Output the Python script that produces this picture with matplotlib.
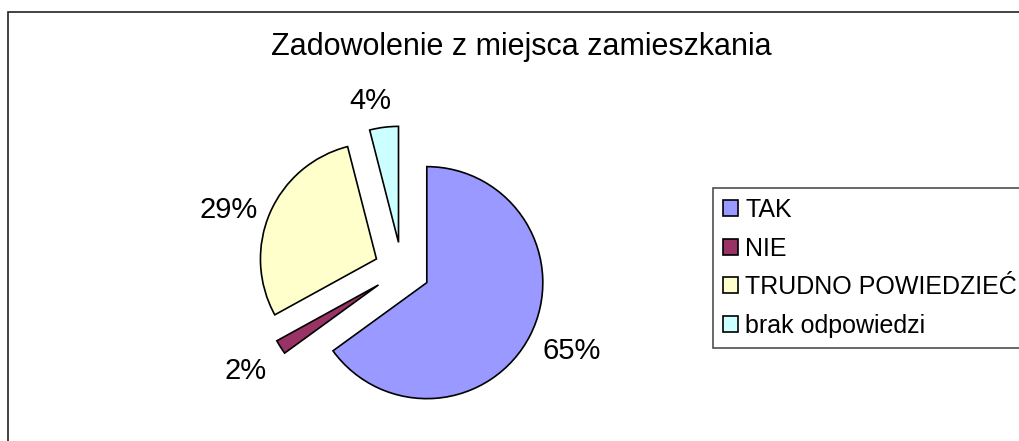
import matplotlib
matplotlib.use("Agg")
import matplotlib.pyplot as plt
import numpy as np
from matplotlib.patches import Rectangle

plt.rcParams['font.family'] = ['Liberation Sans', 'DejaVu Sans']

# data
categories = ["TAK", "NIE", "TRUDNO POWIEDZIEĆ", "brak odpowiedzi"]
values = [65, 2, 29, 4]
colors = ["#9999FF", "#993366", "#FFFFCC", "#CCFFFF"]
title = "Zadowolenie z miejsca zamieszkania"

# label placement tweaks (distance from wedge centre, angle nudge in degrees)
label_dist = [1.38, 1.36, 1.34, 1.24]
label_nudge = [1.6, 0.5, 5.0, 4.0]

W, H = 1020, 441
fig = plt.figure(figsize=(W / 100, H / 100), dpi=100)

# outer chart frame (only top and left edges fall inside the picture)
fig.patches.append(Rectangle((8 / W, -0.1), 1.2, (H - 12) / H + 0.1,
                             transform=fig.transFigure, fill=False,
                             edgecolor="#222222", linewidth=1.2))

# pie axes: centre at pixel (402, 270), 116 px per unit radius
cx, cy, scale = 402, H - 270, 116
half = 2.0
ax = fig.add_axes([(cx - half * scale) / W, (cy - half * scale) / H,
                   2 * half * scale / W, 2 * half * scale / H])

wedges, texts = ax.pie(values, colors=colors, startangle=90, counterclock=False,
                       explode=[0.24] * len(values),
                       labels=["%d%%" % v for v in values], labeldistance=1.38,
                       wedgeprops=dict(edgecolor="black", linewidth=1.2),
                       textprops=dict(fontsize=21))
# pie resets the limits, so set them afterwards
ax.set_xlim(-half, half)
ax.set_ylim(-half, half)
ax.set_aspect("equal")
ax.axis("off")
for w, t, d, n in zip(wedges, texts, label_dist, label_nudge):
    mid = np.deg2rad((w.theta1 + w.theta2) / 2 + n)
    x0, y0 = w.center
    t.set_position((x0 + d * np.cos(mid), y0 + d * np.sin(mid)))
    t.set_horizontalalignment("center")
    t.set_verticalalignment("center")
    t.set_clip_on(False)

fig.text(521 / W, 1 - 47 / H, title, ha="center", va="center", fontsize=22)

leg = fig.legend(wedges, categories, loc="upper left",
                 bbox_to_anchor=(713 / W, 1 - 188 / H), fontsize=18,
                 frameon=True, fancybox=False, edgecolor="#222222",
                 handlelength=0.6, handleheight=0.6, handletextpad=0.3,
                 labelspacing=0.58, borderpad=0.4, borderaxespad=0)
leg.get_frame().set_linewidth(1.2)

fig.savefig("out.png", dpi=100)
